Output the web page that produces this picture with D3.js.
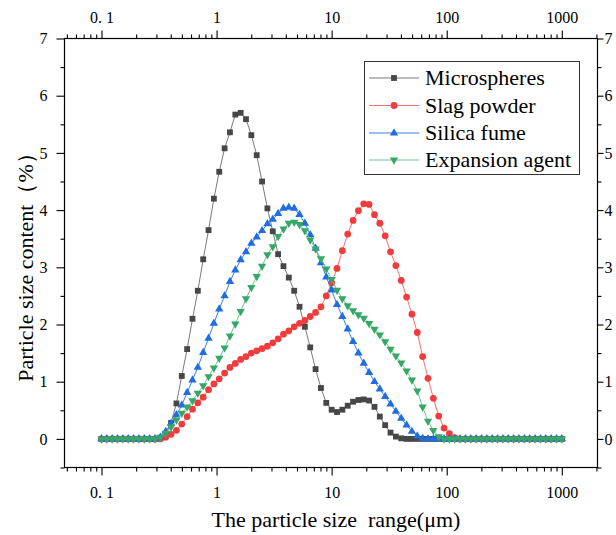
<!DOCTYPE html>
<html>
<head>
<meta charset="utf-8">
<title>Particle size distribution</title>
<script src="https://d3js.org/d3.v7.min.js"></script>
<style>
  body { margin: 0; background: #fff; }
  svg text { font-family: "Liberation Serif", "Times New Roman", serif; fill: #000; }
</style>
</head>
<body>
<script>
// size classes of the analyser (um), log spaced from 0.1 to 1000
const sizeClasses = [
  0.1, 0.1113, 0.1239, 0.1379, 0.1535, 0.1708, 0.1901, 0.2116, 0.2356, 0.2622,
  0.2918, 0.3248, 0.3615, 0.4024, 0.4479, 0.4985, 0.5549, 0.6176, 0.6874, 0.7652,
  0.8517, 0.9479, 1.055, 1.174, 1.307, 1.455, 1.619, 1.802, 2.006, 2.233,
  2.485, 2.766, 3.079, 3.427, 3.814, 4.245, 4.725, 5.259, 5.854, 6.515,
  7.252, 8.072, 8.984, 10, 11.13, 12.39, 13.79, 15.35, 17.08, 19.01,
  21.16, 23.56, 26.22, 29.18, 32.48, 36.15, 40.24, 44.79, 49.85, 55.49,
  61.76, 68.74, 76.52, 85.17, 94.79, 105.5, 117.4, 130.7, 145.5, 161.9,
  180.2, 200.6, 223.3, 248.5, 276.6, 307.9, 342.7, 381.4, 424.5, 472.5,
  525.9, 585.4, 651.5, 725.2, 807.2, 898.4, 1000
];

const microspheres = [
  0, 0, 0, 0, 0, 0, 0, 0, 0, 0,
  0, 0.02, 0.08, 0.28, 0.62, 1.10, 1.57, 2.10, 2.59, 3.14,
  3.65, 4.20, 4.67, 5.08, 5.36, 5.67, 5.70, 5.59, 5.31, 4.96,
  4.50, 4.03, 3.63, 3.23, 3.02, 2.82, 2.59, 2.31, 1.96, 1.60,
  1.22, 0.89, 0.63, 0.51, 0.47, 0.51, 0.58, 0.65, 0.68, 0.69,
  0.67, 0.56, 0.39, 0.24, 0.11, 0.04, 0.01, 0, 0, 0,
  0, 0, 0, 0, 0, 0, 0, 0, 0, 0,
  0, 0, 0, 0, 0, 0, 0, 0, 0, 0,
  0, 0, 0, 0, 0, 0, 0
];

const slagPowder = [
  0, 0, 0, 0, 0, 0, 0, 0, 0, 0,
  0, 0, 0.03, 0.08, 0.15, 0.26, 0.39, 0.52, 0.63, 0.73,
  0.86, 0.96, 1.05, 1.15, 1.25, 1.32, 1.39, 1.44, 1.50, 1.54,
  1.58, 1.62, 1.68, 1.75, 1.83, 1.89, 1.96, 2.02, 2.07, 2.14,
  2.21, 2.31, 2.50, 2.73, 2.98, 3.29, 3.58, 3.82, 3.99, 4.11,
  4.10, 3.92, 3.77, 3.55, 3.27, 3.03, 2.77, 2.48, 2.18, 1.86,
  1.44, 1.06, 0.71, 0.40, 0.19, 0.09, 0.02, 0, 0, 0,
  0, 0, 0, 0, 0, 0, 0, 0, 0, 0,
  0, 0, 0, 0, 0, 0, 0
];

const silicaFume = [
  0, 0, 0, 0, 0, 0, 0, 0, 0, 0,
  0, 0.03, 0.13, 0.27, 0.42, 0.59, 0.81, 1.03, 1.25, 1.51,
  1.76, 2.02, 2.27, 2.50, 2.75, 2.95, 3.13, 3.27, 3.42, 3.53,
  3.64, 3.76, 3.84, 3.94, 4.03, 4.05, 4.03, 3.92, 3.77, 3.57,
  3.33, 3.08, 2.83, 2.60, 2.35, 2.14, 1.92, 1.70, 1.50, 1.32,
  1.16, 1.00, 0.87, 0.74, 0.61, 0.48, 0.36, 0.24, 0.13, 0.05,
  0.01, 0, 0, 0, 0, 0, 0, 0, 0, 0,
  0, 0, 0, 0, 0, 0, 0, 0, 0, 0,
  0, 0, 0, 0, 0, 0, 0
];

const expansionAgent = [
  0, 0, 0, 0, 0, 0, 0, 0, 0, 0,
  0, 0.03, 0.10, 0.21, 0.33, 0.45, 0.56, 0.67, 0.80, 0.93,
  1.09, 1.24, 1.41, 1.59, 1.80, 2.01, 2.23, 2.45, 2.65, 2.84,
  3.02, 3.22, 3.36, 3.54, 3.67, 3.77, 3.79, 3.75, 3.64, 3.48,
  3.32, 3.15, 2.97, 2.79, 2.60, 2.45, 2.33, 2.24, 2.17, 2.11,
  2.02, 1.92, 1.82, 1.70, 1.57, 1.45, 1.33, 1.19, 1.03, 0.84,
  0.56, 0.31, 0.15, 0.04, 0, 0, 0, 0, 0, 0,
  0, 0, 0, 0, 0, 0, 0, 0, 0, 0,
  0, 0, 0, 0, 0, 0, 0
];

const seriesNames = ["Microspheres", "Slag powder", "Silica fume", "Expansion agent"];
const xMajorTicks = [0.1, 1, 10, 100, 1000];
const xMajorLabels = ["0. 1", "1", "10", "100", "1000"];
const yMajorTicks = [0, 1, 2, 3, 4, 5, 6, 7];
const yMinorTicks = [-0.5, 0.5, 1.5, 2.5, 3.5, 4.5, 5.5, 6.5];

const serif = '"Liberation Serif", "Times New Roman", serif';

const styles = [
  { values: microspheres,   marker: "#474747", line: "#7a7a7a", shape: d3.symbolSquare,   size: 34, rot: 0 },
  { values: slagPowder,     marker: "#f03c3c", line: "#f27070", shape: d3.symbolCircle,   size: 36, rot: 0 },
  { values: silicaFume,     marker: "#1f6de0", line: "#3a7fe3", shape: d3.symbolTriangle, size: 30, rot: 0 },
  { values: expansionAgent, marker: "#35a866", line: "#6cc593", shape: d3.symbolTriangle, size: 30, rot: 180 }
];

const width = 616, height = 535;
const svg = d3.select("body").append("svg")
  .attr("width", width)
  .attr("height", height);

const x = d3.scaleLog().domain([0.0477, 2043]).range([64.5, 597.5]);
const y = d3.scaleLinear().domain([-0.5, 7]).range([467.5, 38.5]);

const xMinor = x.ticks().filter(v => Math.abs(Math.log10(v) - Math.round(Math.log10(v))) > 1e-6);

function styleAxis(g) {
  g.select(".domain").remove();
  g.attr("font-size", 16);
  g.selectAll("text").style("font-family", serif);
  g.selectAll("line").attr("stroke", "#000").attr("stroke-width", 1.1);
}

// bottom
svg.append("g").attr("transform", `translate(0,${y(-0.5)})`)
  .call(d3.axisBottom(x).tickValues(xMajorTicks).tickFormat((d, i) => xMajorLabels[i])
    .tickSize(8).tickPadding(11).tickSizeOuter(0))
  .call(styleAxis);
svg.append("g").attr("transform", `translate(0,${y(-0.5)})`)
  .call(d3.axisBottom(x).tickValues(xMinor).tickFormat("").tickSize(4).tickSizeOuter(0))
  .call(styleAxis);

// top
svg.append("g").attr("transform", `translate(0,${y(7)})`)
  .call(d3.axisTop(x).tickValues(xMajorTicks).tickFormat((d, i) => xMajorLabels[i])
    .tickSize(8).tickPadding(8).tickSizeOuter(0))
  .call(styleAxis);
svg.append("g").attr("transform", `translate(0,${y(7)})`)
  .call(d3.axisTop(x).tickValues(xMinor).tickFormat("").tickSize(4).tickSizeOuter(0))
  .call(styleAxis);

// left
svg.append("g").attr("transform", `translate(${x.range()[0]},0)`)
  .call(d3.axisLeft(y).tickValues(yMajorTicks).tickFormat(d3.format("d"))
    .tickSize(8).tickPadding(9).tickSizeOuter(0))
  .call(styleAxis);
svg.append("g").attr("transform", `translate(${x.range()[0]},0)`)
  .call(d3.axisLeft(y).tickValues(yMinorTicks).tickFormat("").tickSize(4).tickSizeOuter(0))
  .call(styleAxis);

// right
svg.append("g").attr("transform", `translate(${x.range()[1]},0)`)
  .call(d3.axisRight(y).tickValues(yMajorTicks).tickFormat(d3.format("d"))
    .tickSize(6).tickPadding(1).tickSizeOuter(0))
  .call(styleAxis);
svg.append("g").attr("transform", `translate(${x.range()[1]},0)`)
  .call(d3.axisRight(y).tickValues(yMinorTicks).tickFormat("").tickSize(4).tickSizeOuter(0))
  .call(styleAxis);

// frame
svg.append("rect")
  .attr("x", x.range()[0]).attr("y", y(7))
  .attr("width", x.range()[1] - x.range()[0])
  .attr("height", y(-0.5) - y(7))
  .attr("fill", "none").attr("stroke", "#000").attr("stroke-width", 1.2);

// series
const line = d3.line()
  .x((d, i) => x(sizeClasses[i]))
  .y(d => y(d));

styles.forEach(s => {
  const g = svg.append("g");
  g.append("path")
    .attr("d", line(s.values))
    .attr("fill", "none")
    .attr("stroke", s.line)
    .attr("stroke-width", 1);
  g.selectAll("path.pt")
    .data(s.values)
    .join("path")
    .attr("class", "pt")
    .attr("d", d3.symbol().type(s.shape).size(s.size))
    .attr("transform", (d, i) => `translate(${x(sizeClasses[i])},${y(d)}) rotate(${s.rot})`)
    .attr("fill", s.marker);
});

// legend
const legend = svg.append("g");
legend.append("rect")
  .attr("x", 364.5).attr("y", 61.5)
  .attr("width", 215).attr("height", 113)
  .attr("fill", "#fff").attr("stroke", "#333").attr("stroke-width", 1);

const rowY = [78, 105.5, 133, 160];
styles.forEach((s, i) => {
  const ry = rowY[i];
  legend.append("line")
    .attr("x1", 369).attr("x2", 419).attr("y1", ry).attr("y2", ry)
    .attr("stroke", s.line).attr("stroke-width", 1.2);
  legend.append("path")
    .attr("d", d3.symbol().type(s.shape).size(s.size)())
    .attr("transform", `translate(394,${ry}) rotate(${s.rot})`)
    .attr("fill", s.marker);
  legend.append("text")
    .attr("x", 425).attr("y", ry + 7)
    .attr("font-size", 22)
    .style("font-family", serif)
    .text(seriesNames[i]);
});

// axis titles
svg.append("text")
  .attr("x", 336).attr("y", 527)
  .attr("text-anchor", "middle")
  .attr("font-size", 22)
  .style("font-family", serif)
  .style("white-space", "pre")
  .text("The particle size  range(μm)");

svg.append("text")
  .attr("transform", "translate(32.5,262) rotate(-90)")
  .attr("text-anchor", "middle")
  .attr("font-size", 22)
  .style("font-family", serif)
  .text("Particle size content（%）");
</script>
</body>
</html>
